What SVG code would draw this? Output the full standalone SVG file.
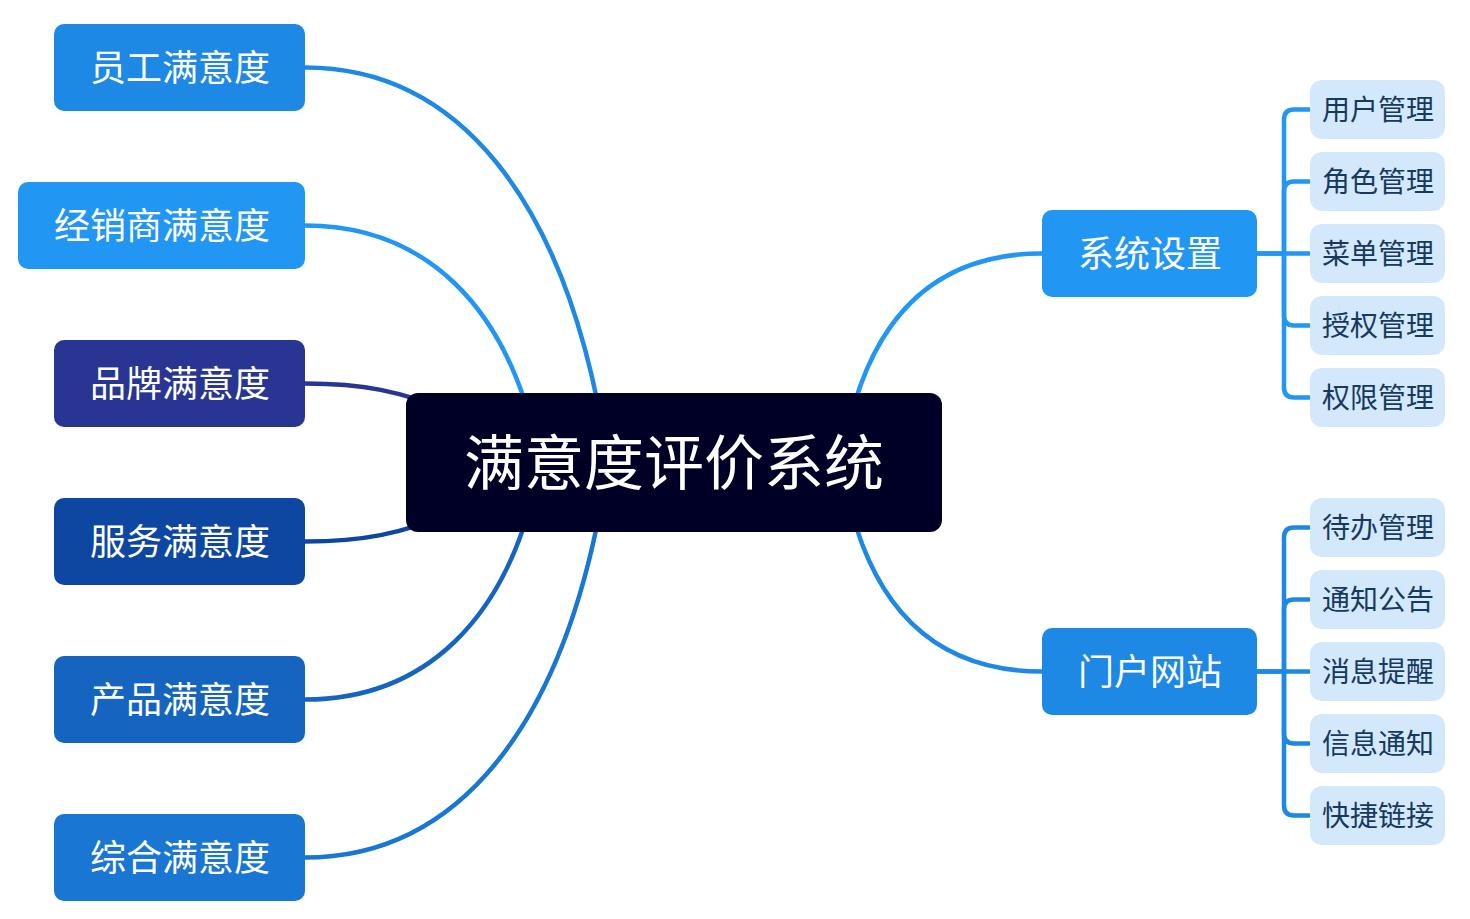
<svg xmlns="http://www.w3.org/2000/svg" width="1470" height="919" viewBox="0 0 1470 919">
<style>
.t{font-family:"Noto Sans CJK SC","Microsoft YaHei",sans-serif;text-anchor:middle;dominant-baseline:central}
.w{fill:#ffffff}
.l{fill:none;stroke-width:4.5;stroke-linecap:round}
.sub{fill:#d3e8fb}
.st{fill:#16395f;font-size:28px}
</style>
<rect width="1470" height="919" fill="#ffffff"/>
<g id="connectors">
<path class="l" stroke="#1e88e5" d="M305,67.5 C452,67.5 568,190 608,462"/>
<path class="l" stroke="#2196f3" d="M305,225.5 C420,225.5 510,300 540,462"/>
<path class="l" stroke="#283593" d="M305,383.5 C360,383.5 400,390 460,415"/>
<path class="l" stroke="#0d47a1" d="M305,541.5 C360,541.5 400,535 460,510"/>
<path class="l" stroke="#1565c0" d="M305,699.5 C420,699.5 510,625 540,463"/>
<path class="l" stroke="#1976d2" d="M305,857.5 C452,857.5 568,735 608,463"/>
<path class="l" stroke="#2196f3" d="M1042,253.5 C950,253.5 880,300 850,420"/>
<path class="l" stroke="#1e88e5" d="M1042,671.5 C950,671.5 880,625 850,505"/>
<g stroke="#2196f3" class="l">
<path d="M1257,253.5 H1284 V119.5 Q1284,109.5 1294,109.5 H1310"/>
<path d="M1284,253.5 V191.5 Q1284,181.5 1294,181.5 H1310"/>
<path d="M1257,253.5 H1310"/>
<path d="M1284,253.5 V315.5 Q1284,325.5 1294,325.5 H1310"/>
<path d="M1284,253.5 V387.5 Q1284,397.5 1294,397.5 H1310"/>
</g>
<g stroke="#1e88e5" class="l">
<path d="M1257,671.5 H1284 V537.5 Q1284,527.5 1294,527.5 H1310"/>
<path d="M1284,671.5 V609.5 Q1284,599.5 1294,599.5 H1310"/>
<path d="M1257,671.5 H1310"/>
<path d="M1284,671.5 V733.5 Q1284,743.5 1294,743.5 H1310"/>
<path d="M1284,671.5 V805.5 Q1284,815.5 1294,815.5 H1310"/>
</g>
</g>
<g id="root"><rect x="406" y="393" width="536" height="139" rx="12" fill="#000026"/><text class="t w" x="674" y="462.5" dy="-0.07em" font-size="60">满意度评价系统</text></g>
<g id="n1"><rect x="54" y="24" width="251" height="87" rx="10" fill="#1e88e5"/><text class="t w" x="180" y="67.5" dy="-0.08em" font-size="36">员工满意度</text></g>
<g id="n2"><rect x="18" y="182" width="287" height="87" rx="10" fill="#2196f3"/><text class="t w" x="162" y="225.5" dy="-0.08em" font-size="36">经销商满意度</text></g>
<g id="n3"><rect x="54" y="340" width="251" height="87" rx="10" fill="#283593"/><text class="t w" x="180" y="383.5" dy="-0.08em" font-size="36">品牌满意度</text></g>
<g id="n4"><rect x="54" y="498" width="251" height="87" rx="10" fill="#0d47a1"/><text class="t w" x="180" y="541.5" dy="-0.08em" font-size="36">服务满意度</text></g>
<g id="n5"><rect x="54" y="656" width="251" height="87" rx="10" fill="#1565c0"/><text class="t w" x="180" y="699.5" dy="-0.08em" font-size="36">产品满意度</text></g>
<g id="n6"><rect x="54" y="814" width="251" height="87" rx="10" fill="#1976d2"/><text class="t w" x="180" y="857.5" dy="-0.08em" font-size="36">综合满意度</text></g>
<g id="sys"><rect x="1042" y="210" width="215" height="87" rx="10" fill="#2196f3"/><text class="t w" x="1150" y="253.5" dy="-0.08em" font-size="36">系统设置</text></g>
<g id="portal"><rect x="1042" y="628" width="215" height="87" rx="10" fill="#1e88e5"/><text class="t w" x="1150" y="671.5" dy="-0.08em" font-size="36">门户网站</text></g>
<g id="s1"><rect class="sub" x="1310" y="80" width="135" height="59" rx="12"/><text class="t st" x="1378" y="109.5" dy="-0.07em">用户管理</text></g>
<g id="s2"><rect class="sub" x="1310" y="152" width="135" height="59" rx="12"/><text class="t st" x="1378" y="181.5" dy="-0.07em">角色管理</text></g>
<g id="s3"><rect class="sub" x="1310" y="224" width="135" height="59" rx="12"/><text class="t st" x="1378" y="253.5" dy="-0.07em">菜单管理</text></g>
<g id="s4"><rect class="sub" x="1310" y="296" width="135" height="59" rx="12"/><text class="t st" x="1378" y="325.5" dy="-0.07em">授权管理</text></g>
<g id="s5"><rect class="sub" x="1310" y="368" width="135" height="59" rx="12"/><text class="t st" x="1378" y="397.5" dy="-0.07em">权限管理</text></g>
<g id="p1"><rect class="sub" x="1310" y="498" width="135" height="59" rx="12"/><text class="t st" x="1378" y="527.5" dy="-0.07em">待办管理</text></g>
<g id="p2"><rect class="sub" x="1310" y="570" width="135" height="59" rx="12"/><text class="t st" x="1378" y="599.5" dy="-0.07em">通知公告</text></g>
<g id="p3"><rect class="sub" x="1310" y="642" width="135" height="59" rx="12"/><text class="t st" x="1378" y="671.5" dy="-0.07em">消息提醒</text></g>
<g id="p4"><rect class="sub" x="1310" y="714" width="135" height="59" rx="12"/><text class="t st" x="1378" y="743.5" dy="-0.07em">信息通知</text></g>
<g id="p5"><rect class="sub" x="1310" y="786" width="135" height="59" rx="12"/><text class="t st" x="1378" y="815.5" dy="-0.07em">快捷链接</text></g>
</svg>
